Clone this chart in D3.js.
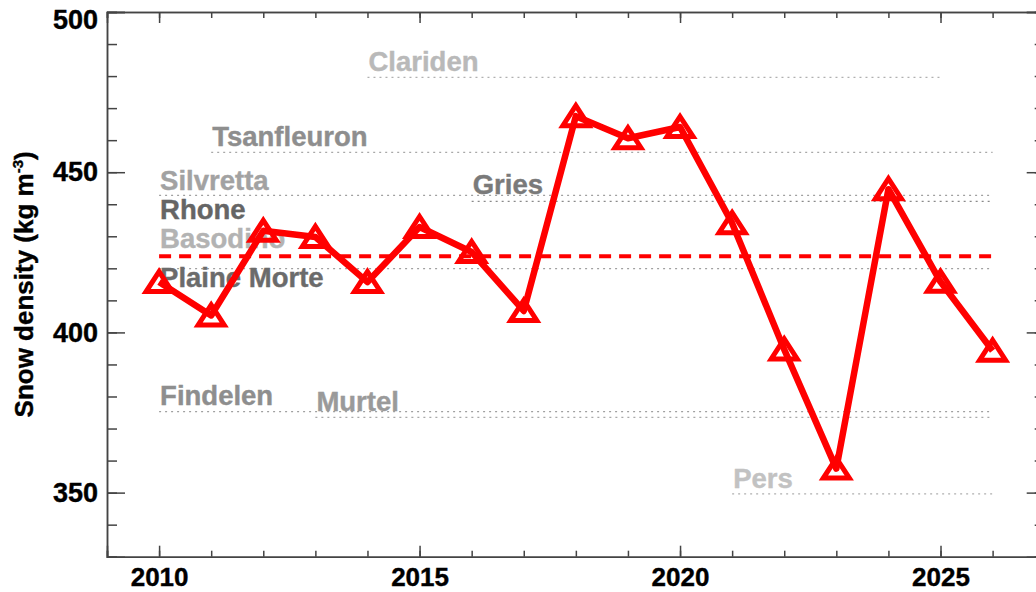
<!DOCTYPE html>
<html>
<head>
    <meta charset="utf-8" />
    <script src="https://d3js.org/d3.v7.min.js"></script>
    <title>Snow density</title>
    <style type="text/css">
        body { margin: 0; background: #fff; }
        svg text { font-family: "Liberation Sans", Arial, sans-serif; font-weight: bold; }
        .axis path, .axis line { stroke: #444; stroke-width: 1.5px; }
        .axis text { fill: #000; stroke: #000; stroke-width: 0.4px; }
        .glacier-line { fill: none; stroke-width: 1.3px; stroke-dasharray: 2,4; }
    </style>
</head>
<body>
    <div id="chart"></div>

    <script type="text/javascript">
        // yearly mean snow density (red curve)
        const years = [2010, 2011, 2012, 2013, 2014, 2015, 2016, 2017, 2018, 2019, 2020, 2021, 2022, 2023, 2024, 2025, 2026];
        const density = [415.7, 405.3, 431.7, 429.8, 415.7, 432.9, 425.1, 406.7, 467.5, 460.6, 464.1, 434.1, 394.7, 357.5, 444.7, 415.8, 394.3];
        const meanDensity = 423.8;

        // glacier reference values (dotted lines) and their labels
        const glaciers    = ["Clariden", "Tsanfleuron", "Silvretta", "Rhone", "Basodino", "Plaine Morte", "Gries", "Findelen", "Murtel", "Pers"];
        const glacierRho  = [479.6, 456.2, 442.8, null, null, 419.9, 440.9, 375.3, 373.5, 349.6];
        const glacierFrom = [2014, 2011, 2010, 2010, 2010, 2010, 2016, 2010, 2013, 2021];
        const glacierTo   = [2025, 2026, 2026, 2026, 2026, 2026, 2026, 2026, 2026, 2026];
        const labelRho    = [481.6, 458.1, 444.4, 435.3, 426.4, 414.1, 443.1, 377.5, 375.4, 351.5];
        const labelColor  = ["#b9b9b9", "#8e8e8e", "#a2a2a2", "#656565", "#b3b3b3", "#6b6b6b", "#7a7a7a", "#8e8e8e", "#9a9a9a", "#c2c2c2"];
        const lineColor   = ["#b0b0b0", "#a8a8a8", "#a0a0a0", "#999", "#aaa", "#a0a0a0", "#8a8a8a", "#a0a0a0", "#a8a8a8", "#b0b0b0"];

        const yMajor = [350, 400, 450, 500];
        const yMinor = d3.range(330, 501, 10);
        const xMajor = [2010, 2015, 2020, 2025];
        const xMinor = d3.range(2009, 2028, 1);

        const width = 1036, height = 592;
        const margin = { left: 107, top: 12, right: 1044.7, bottom: 556.7 };

        const svg = d3.select("#chart").append("svg").attr("width", width).attr("height", height);

        const x = d3.scaleLinear().domain([2009, 2027]).range([margin.left, margin.right]);
        const y = d3.scaleLinear().domain([330, 500]).range([margin.bottom, margin.top]);

        // axes: major + minor ticks on all four sides
        svg.append("g").attr("class", "axis").attr("transform", `translate(${margin.left},0)`)
            .call(d3.axisLeft(y).tickValues(yMinor).tickSize(-10).tickFormat(""));
        const yAxis = svg.append("g").attr("class", "axis").attr("transform", `translate(${margin.left},0)`)
            .call(d3.axisLeft(y).tickValues(yMajor).tickSize(-18).tickPadding(9).tickFormat(d3.format("d")));
        yAxis.selectAll("text").style("font-size", "27px")
            .attr("y", d => Math.max(y(d), 20) - y(d));

        svg.append("g").attr("class", "axis").attr("transform", `translate(${margin.right},0)`)
            .call(d3.axisRight(y).tickValues(yMinor).tickSize(-10).tickFormat(""));
        svg.append("g").attr("class", "axis").attr("transform", `translate(${margin.right},0)`)
            .call(d3.axisRight(y).tickValues(yMajor).tickSize(-18).tickFormat(""));

        svg.append("g").attr("class", "axis").attr("transform", `translate(0,${margin.bottom})`)
            .call(d3.axisBottom(x).tickValues(xMinor).tickSize(-6).tickFormat(""));
        const xAxis = svg.append("g").attr("class", "axis").attr("transform", `translate(0,${margin.bottom})`)
            .call(d3.axisBottom(x).tickValues(xMajor).tickSize(-11).tickPadding(11).tickFormat(d3.format("d")));
        xAxis.selectAll("text").style("font-size", "26px");

        svg.append("g").attr("class", "axis").attr("transform", `translate(0,${margin.top})`)
            .call(d3.axisTop(x).tickValues(xMinor).tickSize(-6).tickFormat(""));
        svg.append("g").attr("class", "axis").attr("transform", `translate(0,${margin.top})`)
            .call(d3.axisTop(x).tickValues(xMajor).tickSize(-11).tickFormat(""));

        svg.selectAll(".axis .domain").attr("stroke", "#444").attr("stroke-width", 1.5);

        // y title
        const title = svg.append("text")
            .attr("transform", `translate(33,${(margin.top + margin.bottom) / 2}) rotate(-90)`)
            .attr("text-anchor", "middle")
            .attr("stroke", "#000").attr("stroke-width", 0.4)
            .style("font-size", "26px");
        title.append("tspan").text("Snow density (kg m");
        title.append("tspan").attr("dy", -10).style("font-size", "15px").text("-3");
        title.append("tspan").attr("dy", 10).text(")");

        // glacier reference lines
        const gl = glaciers.map((name, i) => ({
            name: name, rho: glacierRho[i], from: glacierFrom[i], to: glacierTo[i],
            labelRho: labelRho[i], color: labelColor[i], line: lineColor[i]
        }));

        svg.append("g").selectAll("line")
            .data(gl.filter(d => d.rho !== null)).enter().append("line")
            .attr("class", "glacier-line")
            .attr("x1", d => x(d.from)).attr("x2", d => x(d.to))
            .attr("y1", d => y(d.rho)).attr("y2", d => y(d.rho))
            .attr("stroke", d => d.line)
            .attr("stroke-dasharray", d => d.name === "Gries" ? "4,2" : "2,4");

        svg.append("g").selectAll("text")
            .data(gl).enter().append("text")
            .attr("x", d => x(d.from) + 1)
            .attr("y", d => y(d.labelRho))
            .attr("fill", d => d.color)
            .attr("stroke", d => d.color).attr("stroke-width", 0.4)
            .style("font-size", "27.5px")
            .text(d => d.name);

        // mean line
        svg.append("line")
            .attr("x1", x(years[0])).attr("x2", x(years[years.length - 1]))
            .attr("y1", y(meanDensity)).attr("y2", y(meanDensity))
            .attr("stroke", "#ff0000").attr("stroke-width", 4)
            .attr("stroke-dasharray", "12,8");

        // yearly series
        const pts = years.map((yr, i) => ({ year: yr, rho: density[i] }));

        svg.append("path")
            .datum(pts)
            .attr("fill", "none")
            .attr("stroke", "#ff0000")
            .attr("stroke-width", 6.5)
            .attr("stroke-linejoin", "round")
            .attr("d", d3.line().x(d => x(d.year)).y(d => y(d.rho)));

        svg.append("g").selectAll("path")
            .data(pts).enter().append("path")
            .attr("transform", d => `translate(${x(d.year)},${y(d.rho)})`)
            .attr("d", "M0,-10.5L13,9.5L-13,9.5Z")
            .attr("fill", "none")
            .attr("stroke", "#ff0000")
            .attr("stroke-width", 5)
            .attr("stroke-linejoin", "miter")
            .attr("stroke-miterlimit", 3);
    </script>
</body>
</html>
